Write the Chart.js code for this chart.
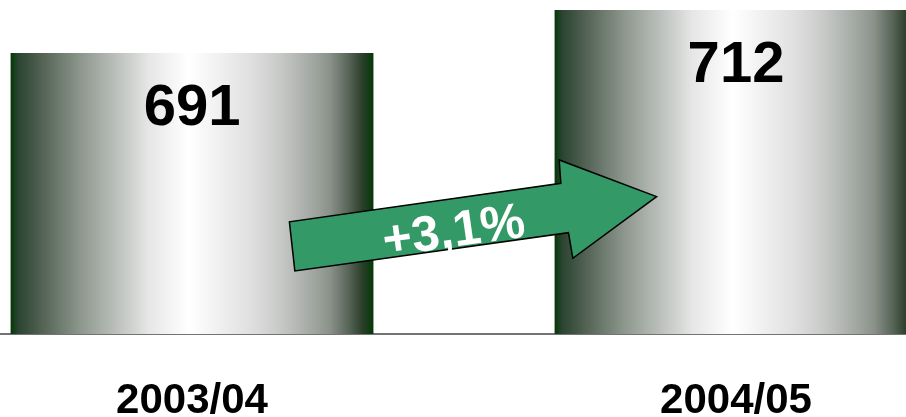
<!DOCTYPE html>
<html>
<head>
<meta charset="utf-8">
<script src="https://cdn.jsdelivr.net/npm/chart.js@4"></script>
<style>
  html, body { margin: 0; padding: 0; background: #fff; }
  #wrap { width: 906px; height: 417px; }
</style>
</head>
<body>
<div id="wrap"><canvas id="barChart" width="906" height="417"></canvas></div>
<script>
// seasons and totals
const seasons = ['2003/04', '2004/05'];
const totals = [691, 712];
const growthText = '+3,1%';

// value range shown on the vertical axis
const yMin = 553.8;
const yMax = 716.9;

// growth arrow outline, in chart units (x = season index, y = total)
const arrowX = [0.189, 0.179, 0.678, 0.675, 0.854, 0.700, 0.692];
const arrowY = [584.6, 608.6, 627.4, 638.8, 620.9, 590.8, 603.3];

const barShare = 0.667;

// metallic shading across each bar: dark green edges, white highlight near the middle
const shadeStops = [
  [0, '#033806'], [0.02, '#2a4430'], [0.08, '#4f5f50'], [0.19, '#8c968c'],
  [0.30, '#c0c3c0'], [0.38, '#e5e6e5'], [0.49, '#ffffff'], [0.52, '#fafafa'],
  [0.66, '#e0e0e0'], [0.74, '#c8cac8'], [0.82, '#a8aca8'], [0.88, '#8a928a'],
  [0.93, '#5a665a'], [0.97, '#2a3f2a'], [1, '#033806']
];

function barGradient(context) {
  const chart = context.chart;
  if (!chart.chartArea || context.type !== 'data') return '#999';
  const xs = chart.scales.x;
  const cx = xs.getPixelForValue(context.dataIndex);
  const half = (xs.getPixelForValue(1) - xs.getPixelForValue(0)) * barShare / 2;
  const g = chart.ctx.createLinearGradient(cx - half, 0, cx + half, 0);
  shadeStops.forEach(([at, c]) => g.addColorStop(at, c));
  return g;
}

// numbers inside the top of each bar
const valueLabels = {
  id: 'valueLabels',
  afterDatasetsDraw(chart) {
    const ctx = chart.ctx;
    const meta = chart.getDatasetMeta(0);
    ctx.save();
    ctx.font = 'bold 58px "Liberation Sans", Arial, sans-serif';
    ctx.fillStyle = '#000';
    ctx.textAlign = 'center';
    ctx.textBaseline = 'middle';
    meta.data.forEach((bar, i) => {
      ctx.fillText(String(totals[i]), bar.x, bar.y + 56);
    });
    ctx.restore();
  }
};

// green arrow between the bars
const growthArrow = {
  id: 'growthArrow',
  afterDatasetsDraw(chart) {
    const ctx = chart.ctx;
    const xs = chart.scales.x;
    const ys = chart.scales.y;
    const pts = arrowX.map((v, i) => [xs.getPixelForValue(v), ys.getPixelForValue(arrowY[i])]);
    ctx.save();
    ctx.beginPath();
    pts.forEach((p, i) => (i ? ctx.lineTo(p[0], p[1]) : ctx.moveTo(p[0], p[1])));
    ctx.closePath();
    ctx.fillStyle = '#339966';
    ctx.fill();
    ctx.lineWidth = 1.5;
    ctx.strokeStyle = '#000';
    ctx.stroke();

    const ang = Math.atan2(pts[2][1] - pts[1][1], pts[2][0] - pts[1][0]);
    ctx.translate(xs.getPixelForValue(0.4816), ys.getPixelForValue(603.2));
    ctx.rotate(ang);
    ctx.font = 'bold 50px "Liberation Sans", Arial, sans-serif';
    ctx.fillStyle = '#fff';
    ctx.textAlign = 'center';
    ctx.textBaseline = 'middle';
    ctx.fillText(growthText, 0, 0);
    ctx.restore();
  }
};

new Chart(document.getElementById('barChart'), {
  type: 'bar',
  data: {
    datasets: [{
      data: totals.map((v, i) => ({ x: i, y: v })),
      backgroundColor: barGradient,
      borderWidth: 0,
      categoryPercentage: barShare,
      barPercentage: 1
    }]
  },
  options: {
    responsive: false,
    animation: false,
    layout: { padding: 0 },
    plugins: {
      legend: { display: false },
      tooltip: { enabled: false }
    },
    scales: {
      x: {
        type: 'linear',
        offset: false,
        min: -0.353,
        max: 1.3125,
        grid: { display: false, drawTicks: false, offset: false },
        border: { display: true, color: 'rgba(40,40,40,0.65)', width: 2 },
        afterBuildTicks: (scale) => {
          scale.ticks = seasons.map((s, i) => ({ value: i }));
        },
        afterFit: (scale) => { scale.height = 83; },
        ticks: {
          autoSkip: false,
          maxRotation: 0,
          padding: 42,
          color: '#000',
          font: { family: '"Liberation Sans", Arial, sans-serif', size: 42, weight: 'bold' },
          callback: (v) => seasons[v]
        }
      },
      y: {
        display: false,
        min: yMin,
        max: yMax
      }
    }
  },
  plugins: [valueLabels, growthArrow]
});
</script>
</body>
</html>
